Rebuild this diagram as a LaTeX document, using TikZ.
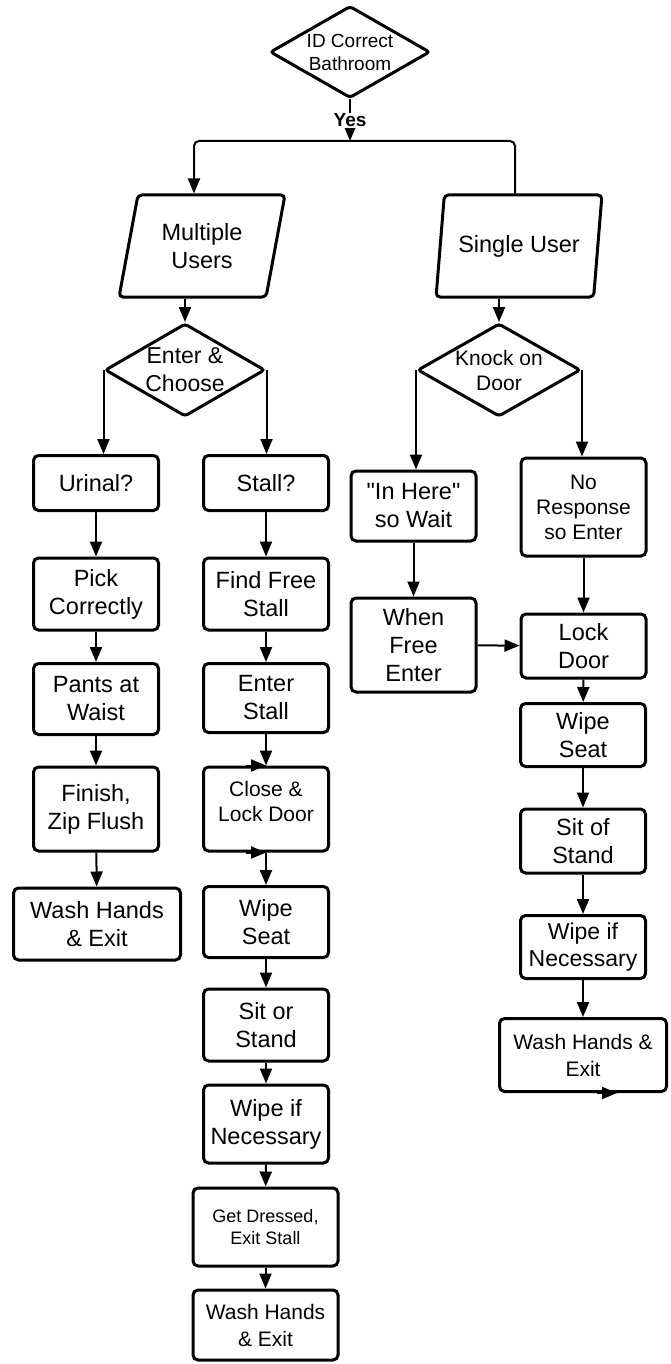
\documentclass[tikz,border=0pt]{standalone}
\usepackage{fontspec}
\setmainfont{Liberation Sans}[Ligatures=TeXOff]
\usetikzlibrary{arrows.meta, shapes.geometric}

\begin{document}
\begin{tikzpicture}[
            x = 1pt, y = -1pt, % pixel grid, y pointing down
            > = {Triangle[length=15pt, width=12pt]}, % arrow head style
            line width = 2pt, % connector lines
        ]

        \tikzstyle{stepbox}=[
            draw = black,
            rectangle,
            rounded corners = 5pt,
            line width = 3pt,
            minimum width = 125,
            align = center,
            inner sep = 0pt,
            font = \fontsize{23.5}{28}\selectfont
        ]
        \tikzstyle{decision}=[
            draw = black,
            diamond,
            aspect = 1.74,
            rounded corners = 3pt,
            line width = 3pt,
            inner sep = 0pt,
            align = center
        ]
        \tikzstyle{userbox}=[
            draw = black,
            trapezium,
            trapezium left angle = 76,
            trapezium right angle = 104,
            trapezium stretches = true,
            rounded corners = 4pt,
            line width = 3pt,
            minimum width = 166,
            minimum height = 102,
            align = center,
            font = \fontsize{23.5}{28}\selectfont
        ]

        \useasboundingbox (0,0) rectangle (671,1364);

        % top of the chart
        \node[decision, minimum width=160, minimum height=92, font=\fontsize{19}{23}\selectfont] (id) at (350,52) {ID Correct\\Bathroom};
        \node[userbox] (multi) at (202,246) {Multiple\\Users};
        \node[userbox] (single) at (519,246) {Single User};
        \node[decision, minimum width=160, minimum height=93, font=\fontsize{23}{28}\selectfont] (enter) at (185,370) {Enter \&\\Choose};
        \node[decision, minimum width=163, minimum height=93, font=\fontsize{21}{25}\selectfont] (knock) at (499,370) {Knock on\\Door};
        \coordinate (split) at (350,141);
        \coordinate (splitL) at (194,141);
        \coordinate (splitR) at (515,141);

        % urinal column
        \node[stepbox, minimum height=55] (urinal) at (96,483) {Urinal?};
        \node[stepbox, minimum height=72] (pick) at (96,594) {Pick\\Correctly};
        \node[stepbox, minimum height=71] (pants) at (96,699) {Pants at\\Waist};
        \node[stepbox, minimum height=84] (finish) at (96,809) {Finish,\\Zip Flush};
        \node[stepbox, minimum height=72, minimum width=167] (washU) at (97,924) {Wash Hands\\\& Exit};

        % stall column
        \node[stepbox, minimum height=55] (stall) at (266,483) {Stall?};
        \node[stepbox, minimum height=72] (findfree) at (266,594) {Find Free\\Stall};
        \node[stepbox, minimum height=69] (enterstall) at (266,698) {Enter\\Stall};
        \node[stepbox, minimum height=84, font=\fontsize{21}{25}\selectfont] (close) at (266,809) {Close \&\\Lock Door\\[-10pt]};
        \node[stepbox, minimum height=71] (wipeseatS) at (266,922) {Wipe\\Seat};
        \node[stepbox, minimum height=72] (sitS) at (266,1025) {Sit or\\Stand};
        \node[stepbox, minimum height=78] (wipeifS) at (266,1124) {Wipe if\\Necessary};
        \node[stepbox, minimum height=78, minimum width=145, font=\fontsize{18}{22}\selectfont] (dressed) at (265.5,1227) {Get Dressed,\\Exit Stall};
        \node[stepbox, minimum height=70, minimum width=145, font=\fontsize{21}{27}\selectfont] (washS) at (265.5,1325) {Wash Hands\\\& Exit};

        % single user side
        \node[stepbox, minimum height=70] (inhere) at (413.5,506) {"In Here"\\so Wait};
        \node[stepbox, minimum height=94] (whenfree) at (413.5,645) {When\\Free\\Enter};
        \node[stepbox, minimum height=98, font=\fontsize{21}{25}\selectfont] (noresp) at (583.5,507) {No\\Response\\so Enter};
        \node[stepbox, minimum height=64] (lock) at (583.5,646) {Lock\\Door};
        \node[stepbox, minimum height=63] (wipeseatR) at (583,735) {Wipe\\Seat};
        \node[stepbox, minimum height=64] (sitR) at (583,841) {Sit of\\Stand};
        \node[stepbox, minimum height=63, font=\fontsize{23}{27}\selectfont] (wipeifR) at (583,947) {Wipe if\\Necessary};
        \node[stepbox, minimum height=73, minimum width=167, font=\fontsize{21}{27}\selectfont] (washR) at (583,1055) {Wash Hands \&\\Exit};

        \draw[->] (id.south) -- node[fill=white, inner sep=1pt, font=\bfseries\fontsize{19}{20}\selectfont] {Yes} (split);
        \draw[->, rounded corners=5pt] (splitR |- single.north) -- (splitR) -- (splitL) -- (splitL |- multi.north);
        \draw[->] (enter.north |- multi.south) -- (enter.north);
        \draw[->] (knock.north |- single.south) -- (knock.north);
        \draw[->] (enter.west) -- (enter.west |- urinal.north);
        \draw[->] (enter.east) -- (enter.east |- stall.north);
        \draw[->] (knock.west) -- (knock.west |- inhere.north);
        \draw[->] (knock.east) -- (knock.east |- noresp.north);

        \draw[->] (urinal) -- (pick);
        \draw[->] (pick) -- (pants);
        \draw[->] (pants) -- (finish);
        \draw[->] (finish) -- (washU);

        \draw[->] (stall) -- (findfree);
        \draw[->] (findfree) -- (enterstall);
        \draw[->] (enterstall) -- (close);
        \draw[->] (close) -- (wipeseatS);
        \draw[->] (wipeseatS) -- (sitS);
        \draw[->] (sitS) -- (wipeifS);
        \draw[->] (wipeifS) -- (dressed);
        \draw[->] (dressed) -- (washS);

        \draw[->] (inhere) -- (whenfree);
        \draw[->] (whenfree) -- (lock);
        \draw[->] (noresp) -- (lock);
        \draw[->] (lock) -- (wipeseatR);
        \draw[->] (wipeseatR) -- (sitR);
        \draw[->] (sitR) -- (wipeifR);
        \draw[->] (wipeifR) -- (washR);

        % stray heads lying on the borders
        \draw[->] ([xshift=-20]close.north) -- (close.north);
        \draw[->] ([xshift=-20]close.south) -- (close.south);
        \draw[->] ([xshift=14]washR.south) -- ([xshift=34]washR.south);
    \end{tikzpicture}
\end{document}
